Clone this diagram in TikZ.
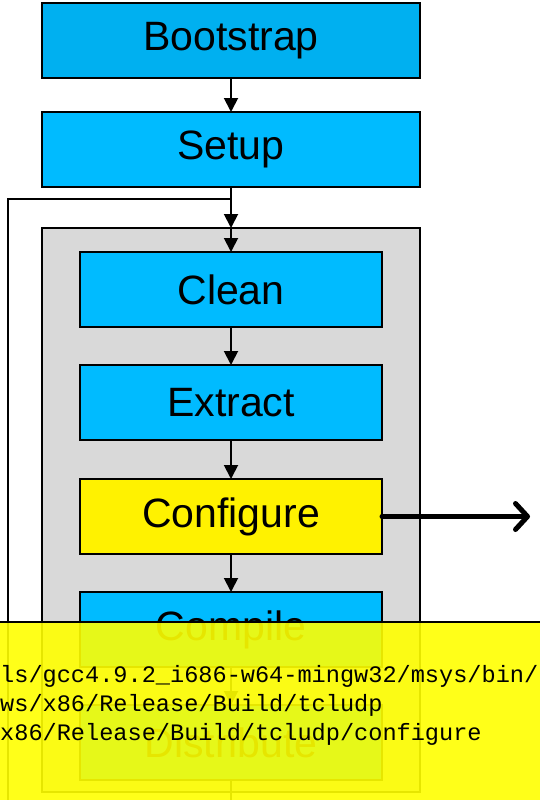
\documentclass[tikz,border=0pt]{standalone}
\usepackage{fontspec}
\setmainfont{Liberation Sans}
\newfontfamily\codefont{Liberation Mono}
\usetikzlibrary{arrows.meta}

\definecolor{bootblue}{HTML}{00B0F0}
\definecolor{stepblue}{HTML}{00BBFF}
\definecolor{groupgray}{HTML}{D9D9D9}
\definecolor{tipyellow}{HTML}{FFFF00}

\begin{document}
\begin{tikzpicture}[x=1pt,y=-1pt,
  stagebox/.style={draw=black, line width=1.8pt, fill=stepblue, minimum height=75pt,
    inner sep=0pt, outer sep=0pt, text=black, font=\fontsize{41}{49}\selectfont},
  outerbox/.style={stagebox, minimum width=378pt},
  innerbox/.style={stagebox, minimum width=302pt},
  flow/.style={line width=1.9pt, -{Triangle[length=14pt,width=14pt]}},
  plainline/.style={line width=1.9pt},
  bigarrow/.style={line width=5pt, line cap=round,
    -{Straight Barb[length=12pt,width=26pt,line cap=round,line join=round]}},
  codeline/.style={anchor=base west, inner sep=0pt, text=black,
    font=\codefont\fontsize{23.6}{28}\selectfont}]

\useasboundingbox (0,0) rectangle (539,800);

% outer stages
\node[outerbox, fill=bootblue] (boot) at (231,40.5) {Bootstrap};
\node[outerbox] (setup) at (231,149.5) {Setup};

% grouped stages
\node[draw=black, line width=1.8pt, fill=groupgray, minimum width=378pt,
  minimum height=564pt, inner sep=0pt, outer sep=0pt] (grp) at (231,510) {};
\node[innerbox] (clean) at (231,289.5) {Clean};
\node[innerbox] (extract) at (231,402.5) {Extract};
\node[innerbox, fill=yellow] (configure) at (231,516.5) {Configure};
\node[innerbox] (compile) at (231,629.5) {Compile};
\node[innerbox] (distribute) at (231,742.5) {Distribute};

% connectors
\coordinate (join) at (231,199);
\coordinate (loopbottom) at (8,800);
\coordinate (tailbottom) at (231,800);
\coordinate (out) at (530,516.5);

\draw[flow] (boot) -- (setup);
\draw[flow] (setup) -- (grp.north);
\draw[flow] (grp.north) -- (clean);
\draw[plainline] (loopbottom) |- (join);
\draw[flow] (clean) -- (extract);
\draw[flow] (extract) -- (configure);
\draw[flow] (configure) -- (compile);
\draw[flow] (compile) -- (distribute);
\draw[plainline] (distribute) -- (tailbottom);
\draw[bigarrow] (configure.east) -- (out);

% popup overlay with command text
\fill[tipyellow, fill opacity=0.9] (-2,622) rectangle (541,802);
\draw[line width=1.8pt] (-2,622) -- (541,622);
\node[codeline] (cmd1) at (0,682) {ls/gcc4.9.2\_i686-w64-mingw32/msys/bin/};
\node[codeline] (cmd2) at (0,711) {ws/x86/Release/Build/tcludp};
\node[codeline] (cmd3) at (0,740) {x86/Release/Build/tcludp/configure};
\end{tikzpicture}
\end{document}
